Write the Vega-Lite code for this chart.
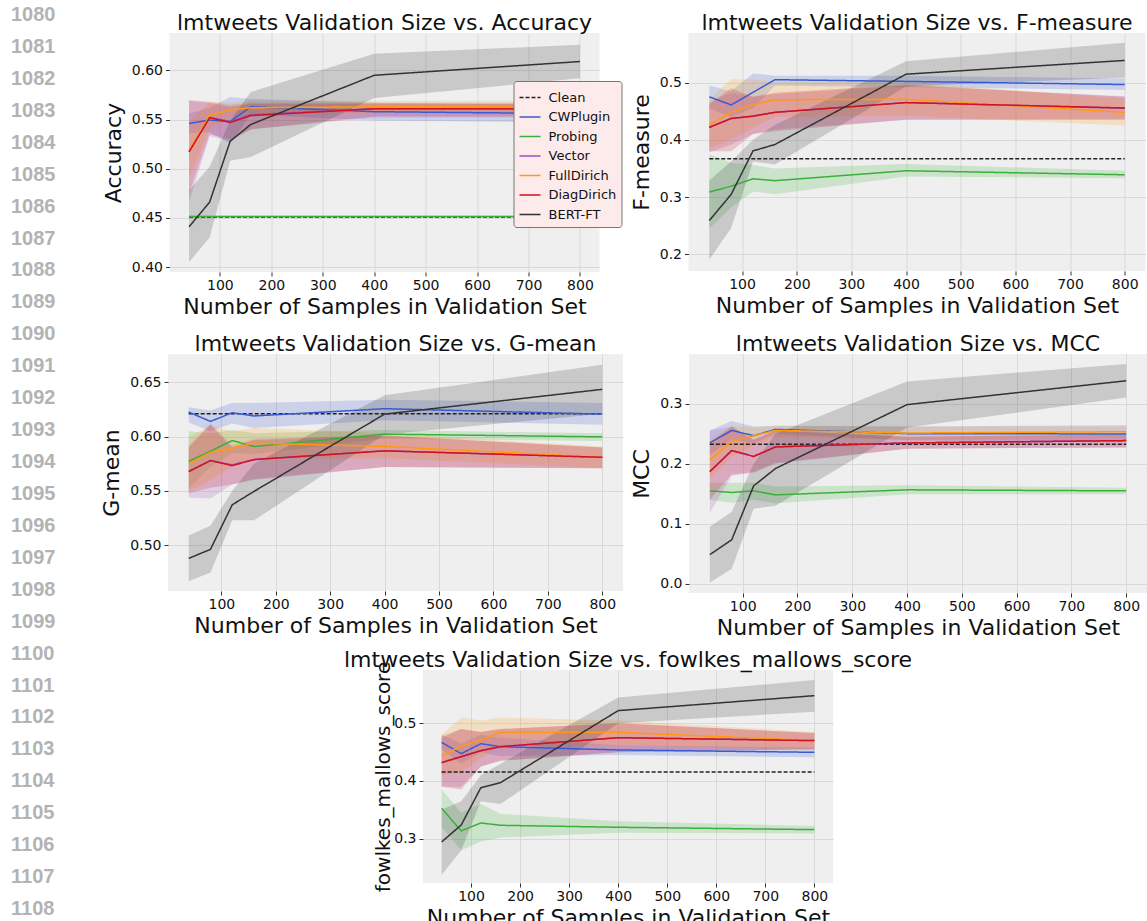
{
"$schema": "https://vega.github.io/schema/vega-lite/v6.json",
"padding": {"top": 5, "left": 0, "right": 0, "bottom": 0},
"background": "white",
"config": {
 "font": "DejaVu Sans",
 "view": {"stroke": null},
 "title": {"fontSize": 22, "fontWeight": "normal", "color": "#111", "offset": -2, "frame": "group", "font": "DejaVu Sans"},
 "axis": {"domain": false, "tickColor": "#333", "tickSize": 4, "tickWidth": 1, "labelFontSize": 14, "labelColor": "#111", "labelPadding": 3, "titleFontSize": 22, "titleFontWeight": "normal", "titleColor": "#111", "titlePadding": 6, "gridColor": "#d9d9d9", "gridWidth": 1, "labelFlush": false, "labelOverlap": false, "labelFont": "DejaVu Sans", "titleFont": "DejaVu Sans"},
 "axisX": {"labelPadding": 2, "titlePadding": 4}
},
"datasets": {"d": [
{"m":"acc","s":"Clean","n":40,"v":0.451},
{"m":"acc","s":"Clean","n":800,"v":0.451},
{"m":"acc","s":"CWPlugin","n":40,"v":0.546,"lo":0.536,"hi":0.556},
{"m":"acc","s":"CWPlugin","n":80,"v":0.5495,"lo":0.537,"hi":0.562},
{"m":"acc","s":"CWPlugin","n":120,"v":0.548,"lo":0.526,"hi":0.573},
{"m":"acc","s":"CWPlugin","n":160,"v":0.563,"lo":0.555,"hi":0.571},
{"m":"acc","s":"CWPlugin","n":400,"v":0.558,"lo":0.549,"hi":0.567},
{"m":"acc","s":"CWPlugin","n":800,"v":0.556,"lo":0.547,"hi":0.565},
{"m":"acc","s":"Probing","n":40,"v":0.4515,"lo":0.4505,"hi":0.4525},
{"m":"acc","s":"Probing","n":80,"v":0.4515,"lo":0.4505,"hi":0.4525},
{"m":"acc","s":"Probing","n":120,"v":0.4515,"lo":0.4505,"hi":0.4525},
{"m":"acc","s":"Probing","n":160,"v":0.4515,"lo":0.4505,"hi":0.4525},
{"m":"acc","s":"Probing","n":400,"v":0.4515,"lo":0.4505,"hi":0.4525},
{"m":"acc","s":"Probing","n":800,"v":0.4515,"lo":0.4505,"hi":0.4525},
{"m":"acc","s":"Vector","n":40,"v":0.518,"lo":0.466,"hi":0.570},
{"m":"acc","s":"Vector","n":80,"v":0.552,"lo":0.533,"hi":0.568},
{"m":"acc","s":"Vector","n":120,"v":0.548,"lo":0.528,"hi":0.565},
{"m":"acc","s":"Vector","n":160,"v":0.555,"lo":0.540,"hi":0.567},
{"m":"acc","s":"Vector","n":400,"v":0.561,"lo":0.552,"hi":0.567},
{"m":"acc","s":"Vector","n":800,"v":0.561,"lo":0.552,"hi":0.567},
{"m":"acc","s":"FullDirich","n":40,"v":0.518,"lo":0.490,"hi":0.547},
{"m":"acc","s":"FullDirich","n":80,"v":0.5545,"lo":0.540,"hi":0.568},
{"m":"acc","s":"FullDirich","n":120,"v":0.5597,"lo":0.552,"hi":0.567},
{"m":"acc","s":"FullDirich","n":160,"v":0.562,"lo":0.555,"hi":0.569},
{"m":"acc","s":"FullDirich","n":400,"v":0.563,"lo":0.557,"hi":0.569},
{"m":"acc","s":"FullDirich","n":800,"v":0.563,"lo":0.557,"hi":0.569},
{"m":"acc","s":"DiagDirich","n":40,"v":0.517,"lo":0.475,"hi":0.569},
{"m":"acc","s":"DiagDirich","n":80,"v":0.552,"lo":0.535,"hi":0.567},
{"m":"acc","s":"DiagDirich","n":120,"v":0.547,"lo":0.530,"hi":0.563},
{"m":"acc","s":"DiagDirich","n":160,"v":0.554,"lo":0.540,"hi":0.566},
{"m":"acc","s":"DiagDirich","n":400,"v":0.561,"lo":0.553,"hi":0.566},
{"m":"acc","s":"DiagDirich","n":800,"v":0.561,"lo":0.553,"hi":0.566},
{"m":"acc","s":"BERT-FT","n":40,"v":0.441,"lo":0.405,"hi":0.478},
{"m":"acc","s":"BERT-FT","n":80,"v":0.466,"lo":0.430,"hi":0.502},
{"m":"acc","s":"BERT-FT","n":120,"v":0.528,"lo":0.508,"hi":0.549},
{"m":"acc","s":"BERT-FT","n":160,"v":0.545,"lo":0.512,"hi":0.578},
{"m":"acc","s":"BERT-FT","n":400,"v":0.595,"lo":0.572,"hi":0.617},
{"m":"acc","s":"BERT-FT","n":800,"v":0.609,"lo":0.592,"hi":0.626},

{"m":"f1","s":"Clean","n":40,"v":0.3668},
{"m":"f1","s":"Clean","n":800,"v":0.3668},
{"m":"f1","s":"CWPlugin","n":40,"v":0.475,"lo":0.455,"hi":0.495},
{"m":"f1","s":"CWPlugin","n":80,"v":0.461,"lo":0.440,"hi":0.485},
{"m":"f1","s":"CWPlugin","n":120,"v":0.483,"lo":0.455,"hi":0.516},
{"m":"f1","s":"CWPlugin","n":160,"v":0.505,"lo":0.495,"hi":0.512},
{"m":"f1","s":"CWPlugin","n":400,"v":0.502,"lo":0.492,"hi":0.512},
{"m":"f1","s":"CWPlugin","n":800,"v":0.4965,"lo":0.487,"hi":0.507},
{"m":"f1","s":"Probing","n":40,"v":0.309,"lo":0.245,"hi":0.375},
{"m":"f1","s":"Probing","n":80,"v":0.319,"lo":0.282,"hi":0.360},
{"m":"f1","s":"Probing","n":120,"v":0.332,"lo":0.310,"hi":0.356},
{"m":"f1","s":"Probing","n":160,"v":0.3287,"lo":0.305,"hi":0.350},
{"m":"f1","s":"Probing","n":400,"v":0.346,"lo":0.336,"hi":0.358},
{"m":"f1","s":"Probing","n":800,"v":0.339,"lo":0.333,"hi":0.346},
{"m":"f1","s":"Vector","n":40,"v":0.422,"lo":0.378,"hi":0.466},
{"m":"f1","s":"Vector","n":80,"v":0.437,"lo":0.392,"hi":0.482},
{"m":"f1","s":"Vector","n":120,"v":0.441,"lo":0.410,"hi":0.475},
{"m":"f1","s":"Vector","n":160,"v":0.448,"lo":0.418,"hi":0.480},
{"m":"f1","s":"Vector","n":400,"v":0.465,"lo":0.435,"hi":0.495},
{"m":"f1","s":"Vector","n":800,"v":0.455,"lo":0.436,"hi":0.476},
{"m":"f1","s":"FullDirich","n":40,"v":0.4257,"lo":0.385,"hi":0.470},
{"m":"f1","s":"FullDirich","n":80,"v":0.448,"lo":0.400,"hi":0.506},
{"m":"f1","s":"FullDirich","n":120,"v":0.4614,"lo":0.420,"hi":0.505},
{"m":"f1","s":"FullDirich","n":160,"v":0.470,"lo":0.440,"hi":0.502},
{"m":"f1","s":"FullDirich","n":400,"v":0.4708,"lo":0.442,"hi":0.500},
{"m":"f1","s":"FullDirich","n":800,"v":0.448,"lo":0.425,"hi":0.472},
{"m":"f1","s":"DiagDirich","n":40,"v":0.4216,"lo":0.380,"hi":0.462},
{"m":"f1","s":"DiagDirich","n":80,"v":0.4374,"lo":0.380,"hi":0.490},
{"m":"f1","s":"DiagDirich","n":120,"v":0.4415,"lo":0.410,"hi":0.475},
{"m":"f1","s":"DiagDirich","n":160,"v":0.448,"lo":0.415,"hi":0.482},
{"m":"f1","s":"DiagDirich","n":400,"v":0.465,"lo":0.435,"hi":0.496},
{"m":"f1","s":"DiagDirich","n":800,"v":0.4556,"lo":0.435,"hi":0.475},
{"m":"f1","s":"BERT-FT","n":40,"v":0.259,"lo":0.191,"hi":0.329},
{"m":"f1","s":"BERT-FT","n":80,"v":0.3047,"lo":0.246,"hi":0.362},
{"m":"f1","s":"BERT-FT","n":120,"v":0.3807,"lo":0.362,"hi":0.400},
{"m":"f1","s":"BERT-FT","n":160,"v":0.3918,"lo":0.357,"hi":0.426},
{"m":"f1","s":"BERT-FT","n":400,"v":0.5146,"lo":0.493,"hi":0.537},
{"m":"f1","s":"BERT-FT","n":800,"v":0.5386,"lo":0.509,"hi":0.5696},

{"m":"gm","s":"Clean","n":40,"v":0.621},
{"m":"gm","s":"Clean","n":800,"v":0.621},
{"m":"gm","s":"CWPlugin","n":40,"v":0.6226,"lo":0.613,"hi":0.627},
{"m":"gm","s":"CWPlugin","n":80,"v":0.614,"lo":0.605,"hi":0.624},
{"m":"gm","s":"CWPlugin","n":120,"v":0.622,"lo":0.612,"hi":0.631},
{"m":"gm","s":"CWPlugin","n":160,"v":0.619,"lo":0.608,"hi":0.631},
{"m":"gm","s":"CWPlugin","n":400,"v":0.6257,"lo":0.615,"hi":0.634},
{"m":"gm","s":"CWPlugin","n":800,"v":0.6207,"lo":0.611,"hi":0.631},
{"m":"gm","s":"Probing","n":40,"v":0.5773,"lo":0.552,"hi":0.605},
{"m":"gm","s":"Probing","n":80,"v":0.5866,"lo":0.572,"hi":0.603},
{"m":"gm","s":"Probing","n":120,"v":0.5964,"lo":0.585,"hi":0.606},
{"m":"gm","s":"Probing","n":160,"v":0.5909,"lo":0.584,"hi":0.603},
{"m":"gm","s":"Probing","n":400,"v":0.6023,"lo":0.598,"hi":0.606},
{"m":"gm","s":"Probing","n":800,"v":0.5998,"lo":0.596,"hi":0.603},
{"m":"gm","s":"Vector","n":40,"v":0.568,"lo":0.544,"hi":0.592},
{"m":"gm","s":"Vector","n":80,"v":0.578,"lo":0.543,"hi":0.612},
{"m":"gm","s":"Vector","n":120,"v":0.574,"lo":0.556,"hi":0.592},
{"m":"gm","s":"Vector","n":160,"v":0.579,"lo":0.560,"hi":0.598},
{"m":"gm","s":"Vector","n":400,"v":0.587,"lo":0.572,"hi":0.601},
{"m":"gm","s":"Vector","n":800,"v":0.581,"lo":0.571,"hi":0.590},
{"m":"gm","s":"FullDirich","n":40,"v":0.5749,"lo":0.550,"hi":0.600},
{"m":"gm","s":"FullDirich","n":80,"v":0.5856,"lo":0.560,"hi":0.610},
{"m":"gm","s":"FullDirich","n":120,"v":0.5896,"lo":0.573,"hi":0.605},
{"m":"gm","s":"FullDirich","n":160,"v":0.594,"lo":0.580,"hi":0.608},
{"m":"gm","s":"FullDirich","n":400,"v":0.591,"lo":0.580,"hi":0.603},
{"m":"gm","s":"FullDirich","n":800,"v":0.581,"lo":0.571,"hi":0.591},
{"m":"gm","s":"DiagDirich","n":40,"v":0.5678,"lo":0.548,"hi":0.590},
{"m":"gm","s":"DiagDirich","n":80,"v":0.578,"lo":0.553,"hi":0.611},
{"m":"gm","s":"DiagDirich","n":120,"v":0.5733,"lo":0.556,"hi":0.590},
{"m":"gm","s":"DiagDirich","n":160,"v":0.5789,"lo":0.561,"hi":0.597},
{"m":"gm","s":"DiagDirich","n":400,"v":0.5869,"lo":0.572,"hi":0.601},
{"m":"gm","s":"DiagDirich","n":800,"v":0.581,"lo":0.571,"hi":0.590},
{"m":"gm","s":"BERT-FT","n":40,"v":0.488,"lo":0.467,"hi":0.509},
{"m":"gm","s":"BERT-FT","n":80,"v":0.4963,"lo":0.475,"hi":0.518},
{"m":"gm","s":"BERT-FT","n":120,"v":0.5373,"lo":0.523,"hi":0.550},
{"m":"gm","s":"BERT-FT","n":160,"v":0.5496,"lo":0.523,"hi":0.575},
{"m":"gm","s":"BERT-FT","n":400,"v":0.6207,"lo":0.602,"hi":0.638},
{"m":"gm","s":"BERT-FT","n":800,"v":0.6435,"lo":0.621,"hi":0.666},

{"m":"mcc","s":"Clean","n":40,"v":0.2323},
{"m":"mcc","s":"Clean","n":800,"v":0.2323},
{"m":"mcc","s":"CWPlugin","n":40,"v":0.2345,"lo":0.215,"hi":0.255},
{"m":"mcc","s":"CWPlugin","n":80,"v":0.2554,"lo":0.240,"hi":0.271},
{"m":"mcc","s":"CWPlugin","n":120,"v":0.2466,"lo":0.234,"hi":0.262},
{"m":"mcc","s":"CWPlugin","n":160,"v":0.2571,"lo":0.250,"hi":0.263},
{"m":"mcc","s":"CWPlugin","n":400,"v":0.250,"lo":0.239,"hi":0.262},
{"m":"mcc","s":"CWPlugin","n":800,"v":0.2494,"lo":0.237,"hi":0.264},
{"m":"mcc","s":"Probing","n":40,"v":0.1547,"lo":0.140,"hi":0.168},
{"m":"mcc","s":"Probing","n":80,"v":0.152,"lo":0.135,"hi":0.168},
{"m":"mcc","s":"Probing","n":120,"v":0.1547,"lo":0.140,"hi":0.168},
{"m":"mcc","s":"Probing","n":160,"v":0.148,"lo":0.134,"hi":0.162},
{"m":"mcc","s":"Probing","n":400,"v":0.1564,"lo":0.149,"hi":0.164},
{"m":"mcc","s":"Probing","n":800,"v":0.1547,"lo":0.149,"hi":0.160},
{"m":"mcc","s":"Vector","n":40,"v":0.187,"lo":0.118,"hi":0.255},
{"m":"mcc","s":"Vector","n":80,"v":0.222,"lo":0.180,"hi":0.262},
{"m":"mcc","s":"Vector","n":120,"v":0.212,"lo":0.185,"hi":0.240},
{"m":"mcc","s":"Vector","n":160,"v":0.228,"lo":0.200,"hi":0.255},
{"m":"mcc","s":"Vector","n":400,"v":0.2345,"lo":0.225,"hi":0.245},
{"m":"mcc","s":"Vector","n":800,"v":0.2384,"lo":0.227,"hi":0.249},
{"m":"mcc","s":"FullDirich","n":40,"v":0.2064,"lo":0.175,"hi":0.240},
{"m":"mcc","s":"FullDirich","n":80,"v":0.2367,"lo":0.212,"hi":0.263},
{"m":"mcc","s":"FullDirich","n":120,"v":0.2466,"lo":0.230,"hi":0.260},
{"m":"mcc","s":"FullDirich","n":160,"v":0.2554,"lo":0.245,"hi":0.263},
{"m":"mcc","s":"FullDirich","n":400,"v":0.251,"lo":0.240,"hi":0.262},
{"m":"mcc","s":"FullDirich","n":800,"v":0.2532,"lo":0.243,"hi":0.262},
{"m":"mcc","s":"DiagDirich","n":40,"v":0.1866,"lo":0.140,"hi":0.235},
{"m":"mcc","s":"DiagDirich","n":80,"v":0.2218,"lo":0.182,"hi":0.262},
{"m":"mcc","s":"DiagDirich","n":120,"v":0.212,"lo":0.186,"hi":0.240},
{"m":"mcc","s":"DiagDirich","n":160,"v":0.2279,"lo":0.201,"hi":0.255},
{"m":"mcc","s":"DiagDirich","n":400,"v":0.2345,"lo":0.225,"hi":0.245},
{"m":"mcc","s":"DiagDirich","n":800,"v":0.2384,"lo":0.227,"hi":0.248},
{"m":"mcc","s":"BERT-FT","n":40,"v":0.0485,"lo":0.002,"hi":0.095},
{"m":"mcc","s":"BERT-FT","n":80,"v":0.0733,"lo":0.025,"hi":0.120},
{"m":"mcc","s":"BERT-FT","n":120,"v":0.163,"lo":0.125,"hi":0.200},
{"m":"mcc","s":"BERT-FT","n":160,"v":0.192,"lo":0.130,"hi":0.250},
{"m":"mcc","s":"BERT-FT","n":400,"v":0.2983,"lo":0.260,"hi":0.337},
{"m":"mcc","s":"BERT-FT","n":800,"v":0.338,"lo":0.310,"hi":0.366},

{"m":"fms","s":"Clean","n":40,"v":0.4156},
{"m":"fms","s":"Clean","n":800,"v":0.4156},
{"m":"fms","s":"CWPlugin","n":40,"v":0.467,"lo":0.455,"hi":0.480},
{"m":"fms","s":"CWPlugin","n":80,"v":0.4474,"lo":0.430,"hi":0.465},
{"m":"fms","s":"CWPlugin","n":120,"v":0.4647,"lo":0.450,"hi":0.480},
{"m":"fms","s":"CWPlugin","n":160,"v":0.4595,"lo":0.443,"hi":0.475},
{"m":"fms","s":"CWPlugin","n":400,"v":0.4538,"lo":0.445,"hi":0.462},
{"m":"fms","s":"CWPlugin","n":800,"v":0.4497,"lo":0.441,"hi":0.458},
{"m":"fms","s":"Probing","n":40,"v":0.3526,"lo":0.320,"hi":0.385},
{"m":"fms","s":"Probing","n":80,"v":0.3133,"lo":0.280,"hi":0.345},
{"m":"fms","s":"Probing","n":120,"v":0.3272,"lo":0.295,"hi":0.360},
{"m":"fms","s":"Probing","n":160,"v":0.3231,"lo":0.302,"hi":0.343},
{"m":"fms","s":"Probing","n":400,"v":0.3197,"lo":0.310,"hi":0.330},
{"m":"fms","s":"Probing","n":800,"v":0.3156,"lo":0.309,"hi":0.322},
{"m":"fms","s":"Vector","n":40,"v":0.432,"lo":0.390,"hi":0.478},
{"m":"fms","s":"Vector","n":80,"v":0.442,"lo":0.390,"hi":0.490},
{"m":"fms","s":"Vector","n":120,"v":0.4526,"lo":0.425,"hi":0.485},
{"m":"fms","s":"Vector","n":160,"v":0.4595,"lo":0.435,"hi":0.490},
{"m":"fms","s":"Vector","n":400,"v":0.4751,"lo":0.450,"hi":0.500},
{"m":"fms","s":"Vector","n":800,"v":0.470,"lo":0.455,"hi":0.483},
{"m":"fms","s":"FullDirich","n":40,"v":0.4428,"lo":0.410,"hi":0.480},
{"m":"fms","s":"FullDirich","n":80,"v":0.4607,"lo":0.415,"hi":0.510},
{"m":"fms","s":"FullDirich","n":120,"v":0.4711,"lo":0.440,"hi":0.505},
{"m":"fms","s":"FullDirich","n":160,"v":0.4844,"lo":0.460,"hi":0.510},
{"m":"fms","s":"FullDirich","n":400,"v":0.4844,"lo":0.462,"hi":0.505},
{"m":"fms","s":"FullDirich","n":800,"v":0.470,"lo":0.455,"hi":0.485},
{"m":"fms","s":"DiagDirich","n":40,"v":0.4318,"lo":0.390,"hi":0.475},
{"m":"fms","s":"DiagDirich","n":80,"v":0.4422,"lo":0.385,"hi":0.490},
{"m":"fms","s":"DiagDirich","n":120,"v":0.4526,"lo":0.425,"hi":0.485},
{"m":"fms","s":"DiagDirich","n":160,"v":0.4595,"lo":0.435,"hi":0.490},
{"m":"fms","s":"DiagDirich","n":400,"v":0.4751,"lo":0.450,"hi":0.500},
{"m":"fms","s":"DiagDirich","n":800,"v":0.470,"lo":0.455,"hi":0.483},
{"m":"fms","s":"BERT-FT","n":40,"v":0.2942,"lo":0.237,"hi":0.350},
{"m":"fms","s":"BERT-FT","n":80,"v":0.3237,"lo":0.280,"hi":0.365},
{"m":"fms","s":"BERT-FT","n":120,"v":0.3884,"lo":0.365,"hi":0.410},
{"m":"fms","s":"BERT-FT","n":160,"v":0.3971,"lo":0.360,"hi":0.430},
{"m":"fms","s":"BERT-FT","n":400,"v":0.522,"lo":0.500,"hi":0.545},
{"m":"fms","s":"BERT-FT","n":800,"v":0.548,"lo":0.520,"hi":0.575}
]},
"spacing": 44,
"resolve": {"scale": {"color": "independent", "fill": "independent", "strokeDash": "independent"}},
"hconcat": [
 {
  "width": 55, "height": 880,
  "data": {"values": [{"ln":1080},{"ln":1081},{"ln":1082},{"ln":1083},{"ln":1084},{"ln":1085},{"ln":1086},{"ln":1087},{"ln":1088},{"ln":1089},{"ln":1090},{"ln":1091},{"ln":1092},{"ln":1093},{"ln":1094},{"ln":1095},{"ln":1096},{"ln":1097},{"ln":1098},{"ln":1099},{"ln":1100},{"ln":1101},{"ln":1102},{"ln":1103},{"ln":1104},{"ln":1105},{"ln":1106},{"ln":1107},{"ln":1108}]},
  "mark": {"type": "text", "align": "left", "baseline": "middle", "font": "Liberation Sans", "fontSize": 20, "fontWeight": "bold", "color": "#b3b3b3"},
  "encoding": {
   "y": {"field": "ln", "type": "quantitative", "scale": {"domain": [1080.5637, 1108.124], "reverse": true, "nice": false, "zero": false}, "axis": null},
   "x": {"datum": 0, "type": "quantitative", "scale": {"domain": [-0.25, 1], "nice": false, "zero": false}, "axis": null},
   "text": {"field": "ln", "type": "quantitative", "format": "d"}
  }
 },
 {
  "vconcat": [
   {
    "hconcat": [
     {
      "width": 430, "height": 239,
      "view": {"fill": "#efefef"},
      "title": "lmtweets Validation Size vs. Accuracy",
      "data": {"name": "d"},
      "transform": [{"filter": "datum.m === 'acc'"}],
      "layer": [
       {"transform": [{"filter": "datum.s !== 'Clean'"}],
        "mark": {"type": "area", "opacity": 0.2},
        "encoding": {
         "x": {"field": "n", "type": "quantitative", "title": "Number of Samples in Validation Set", "scale": {"domain": [2, 838], "nice": false, "zero": false}, "axis": {"values": [100,200,300,400,500,600,700,800]}},
         "y": {"field": "lo", "type": "quantitative", "title": "Accuracy", "scale": {"domain": [0.395, 0.638], "nice": false, "zero": false}, "axis": {"values": [0.40,0.45,0.50,0.55,0.60], "format": ".2f"}},
         "y2": {"field": "hi"},
         "fill": {"field": "s", "type": "nominal", "scale": {"domain": ["CWPlugin","Probing","Vector","FullDirich","DiagDirich","BERT-FT"], "range": ["#3a5bd0","#3cae3c","#9b52c0","#ff9a10","#d2121e","#333333"]}, "legend": null}
        }},
       {"mark": {"type": "line", "strokeWidth": 1.5},
        "encoding": {
         "x": {"field": "n", "type": "quantitative", "title": "Number of Samples in Validation Set"},
         "y": {"field": "v", "type": "quantitative", "title": "Accuracy"},
         "color": {"field": "s", "type": "nominal", "scale": {"domain": ["Clean","CWPlugin","Probing","Vector","FullDirich","DiagDirich","BERT-FT"], "range": ["#222222","#3a5bd0","#3cae3c","#9b52c0","#ff9a10","#d2121e","#333333"]},
          "legend": {"title": null, "orient": "none", "legendX": 344, "legendY": 48, "direction": "vertical", "fillColor": "#fdeaea", "strokeColor": "#777777", "cornerRadius": 3, "padding": 5, "symbolType": "stroke", "symbolSize": 441, "symbolStrokeWidth": 1.5, "labelFontSize": 13, "labelFont": "DejaVu Sans", "labelColor": "#111", "labelOffset": 7, "rowPadding": 0.5}},
         "strokeDash": {"field": "s", "type": "nominal", "scale": {"domain": ["Clean","CWPlugin","Probing","Vector","FullDirich","DiagDirich","BERT-FT"], "range": [[4,2],[1,0],[1,0],[1,0],[1,0],[1,0],[1,0]]},
          "legend": {"title": null, "orient": "none", "legendX": 344, "legendY": 48, "direction": "vertical", "fillColor": "#fdeaea", "strokeColor": "#777777", "cornerRadius": 3, "padding": 5, "symbolType": "stroke", "symbolSize": 441, "symbolStrokeWidth": 1.5, "labelFontSize": 13, "labelFont": "DejaVu Sans", "labelColor": "#111", "labelOffset": 7, "rowPadding": 0.5}}
        }}
      ]
     },
     {
      "width": 457, "height": 238,
      "view": {"fill": "#efefef"},
      "title": "lmtweets Validation Size vs. F-measure",
      "data": {"name": "d"},
      "transform": [{"filter": "datum.m === 'f1'"}],
      "layer": [
       {"transform": [{"filter": "datum.s !== 'Clean'"}],
        "mark": {"type": "area", "opacity": 0.2},
        "encoding": {
         "x": {"field": "n", "type": "quantitative", "title": "Number of Samples in Validation Set", "scale": {"domain": [2, 838], "nice": false, "zero": false}, "axis": {"values": [100,200,300,400,500,600,700,800]}},
         "y": {"field": "lo", "type": "quantitative", "title": "F-measure", "scale": {"domain": [0.171, 0.5865], "nice": false, "zero": false}, "axis": {"values": [0.2,0.3,0.4,0.5], "format": ".1f"}},
         "y2": {"field": "hi"},
         "fill": {"field": "s", "type": "nominal", "scale": {"domain": ["CWPlugin","Probing","Vector","FullDirich","DiagDirich","BERT-FT"], "range": ["#3a5bd0","#3cae3c","#9b52c0","#ff9a10","#d2121e","#333333"]}, "legend": null}
        }},
       {"mark": {"type": "line", "strokeWidth": 1.5},
        "encoding": {
         "x": {"field": "n", "type": "quantitative", "title": "Number of Samples in Validation Set"},
         "y": {"field": "v", "type": "quantitative", "title": "F-measure"},
         "color": {"field": "s", "type": "nominal", "scale": {"domain": ["Clean","CWPlugin","Probing","Vector","FullDirich","DiagDirich","BERT-FT"], "range": ["#222222","#3a5bd0","#3cae3c","#9b52c0","#ff9a10","#d2121e","#333333"]}, "legend": null},
         "strokeDash": {"field": "s", "type": "nominal", "scale": {"domain": ["Clean","CWPlugin","Probing","Vector","FullDirich","DiagDirich","BERT-FT"], "range": [[4,2],[1,0],[1,0],[1,0],[1,0],[1,0],[1,0]]}, "legend": null}
        }}
      ]
     }
    ],
    "spacing": 7,
    "resolve": {"scale": {"color": "independent", "fill": "independent", "strokeDash": "independent"}}
   },
   {
    "vconcat": [
     {
      "hconcat": [
       {
        "width": 455, "height": 237,
        "view": {"fill": "#efefef"},
        "title": "lmtweets Validation Size vs. G-mean",
        "data": {"name": "d"},
        "transform": [{"filter": "datum.m === 'gm'"}],
        "layer": [
         {"transform": [{"filter": "datum.s !== 'Clean'"}],
          "mark": {"type": "area", "opacity": 0.2},
          "encoding": {
           "x": {"field": "n", "type": "quantitative", "title": "Number of Samples in Validation Set", "scale": {"domain": [2, 838], "nice": false, "zero": false}, "axis": {"values": [100,200,300,400,500,600,700,800]}},
           "y": {"field": "lo", "type": "quantitative", "title": "G-mean", "scale": {"domain": [0.458, 0.676], "nice": false, "zero": false}, "axis": {"values": [0.50,0.55,0.60,0.65], "format": ".2f"}},
           "y2": {"field": "hi"},
           "fill": {"field": "s", "type": "nominal", "scale": {"domain": ["CWPlugin","Probing","Vector","FullDirich","DiagDirich","BERT-FT"], "range": ["#3a5bd0","#3cae3c","#9b52c0","#ff9a10","#d2121e","#333333"]}, "legend": null}
          }},
         {"mark": {"type": "line", "strokeWidth": 1.5},
          "encoding": {
           "x": {"field": "n", "type": "quantitative", "title": "Number of Samples in Validation Set"},
           "y": {"field": "v", "type": "quantitative", "title": "G-mean"},
           "color": {"field": "s", "type": "nominal", "scale": {"domain": ["Clean","CWPlugin","Probing","Vector","FullDirich","DiagDirich","BERT-FT"], "range": ["#222222","#3a5bd0","#3cae3c","#9b52c0","#ff9a10","#d2121e","#333333"]}, "legend": null},
           "strokeDash": {"field": "s", "type": "nominal", "scale": {"domain": ["Clean","CWPlugin","Probing","Vector","FullDirich","DiagDirich","BERT-FT"], "range": [[4,2],[1,0],[1,0],[1,0],[1,0],[1,0],[1,0]]}, "legend": null}
          }}
        ]
       },
       {
        "width": 458, "height": 239,
        "view": {"fill": "#efefef"},
        "title": "lmtweets Validation Size vs. MCC",
        "data": {"name": "d"},
        "transform": [{"filter": "datum.m === 'mcc'"}],
        "layer": [
         {"transform": [{"filter": "datum.s !== 'Clean'"}],
          "mark": {"type": "area", "opacity": 0.2},
          "encoding": {
           "x": {"field": "n", "type": "quantitative", "title": "Number of Samples in Validation Set", "scale": {"domain": [2, 838], "nice": false, "zero": false}, "axis": {"values": [100,200,300,400,500,600,700,800]}},
           "y": {"field": "lo", "type": "quantitative", "title": "MCC", "scale": {"domain": [-0.0154, 0.3826], "nice": false, "zero": false}, "axis": {"values": [0.0,0.1,0.2,0.3], "format": ".1f"}},
           "y2": {"field": "hi"},
           "fill": {"field": "s", "type": "nominal", "scale": {"domain": ["CWPlugin","Probing","Vector","FullDirich","DiagDirich","BERT-FT"], "range": ["#3a5bd0","#3cae3c","#9b52c0","#ff9a10","#d2121e","#333333"]}, "legend": null}
          }},
         {"mark": {"type": "line", "strokeWidth": 1.5},
          "encoding": {
           "x": {"field": "n", "type": "quantitative", "title": "Number of Samples in Validation Set"},
           "y": {"field": "v", "type": "quantitative", "title": "MCC"},
           "color": {"field": "s", "type": "nominal", "scale": {"domain": ["Clean","CWPlugin","Probing","Vector","FullDirich","DiagDirich","BERT-FT"], "range": ["#222222","#3a5bd0","#3cae3c","#9b52c0","#ff9a10","#d2121e","#333333"]}, "legend": null},
           "strokeDash": {"field": "s", "type": "nominal", "scale": {"domain": ["Clean","CWPlugin","Probing","Vector","FullDirich","DiagDirich","BERT-FT"], "range": [[4,2],[1,0],[1,0],[1,0],[1,0],[1,0],[1,0]]}, "legend": null}
          }}
        ]
       }
      ],
      "spacing": 7,
      "resolve": {"scale": {"color": "independent", "fill": "independent", "strokeDash": "independent"}}
     },
     {
      "hconcat": [
       {
        "width": 176, "height": 10,
        "data": {"values": [{"t": ""}]},
        "mark": {"type": "text"},
        "encoding": {"text": {"field": "t", "type": "nominal"}}
       },
       {
        "width": 410, "height": 213,
        "view": {"fill": "#efefef"},
        "title": {"text": "lmtweets Validation Size vs. fowlkes_mallows_score", "offset": -11},
        "data": {"name": "d"},
        "transform": [{"filter": "datum.m === 'fms'"}],
        "layer": [
         {"transform": [{"filter": "datum.s !== 'Clean'"}],
          "mark": {"type": "area", "opacity": 0.2},
          "encoding": {
           "x": {"field": "n", "type": "quantitative", "title": "Number of Samples in Validation Set", "scale": {"domain": [2, 838], "nice": false, "zero": false}, "axis": {"values": [100,200,300,400,500,600,700,800]}},
           "y": {"field": "lo", "type": "quantitative", "title": "fowlkes_mallows_score", "scale": {"domain": [0.223, 0.5925], "nice": false, "zero": false}, "axis": {"values": [0.3,0.4,0.5], "format": ".1f", "titleFontSize": 20, "titlePadding": 0}},
           "y2": {"field": "hi"},
           "fill": {"field": "s", "type": "nominal", "scale": {"domain": ["CWPlugin","Probing","Vector","FullDirich","DiagDirich","BERT-FT"], "range": ["#3a5bd0","#3cae3c","#9b52c0","#ff9a10","#d2121e","#333333"]}, "legend": null}
          }},
         {"mark": {"type": "line", "strokeWidth": 1.5},
          "encoding": {
           "x": {"field": "n", "type": "quantitative", "title": "Number of Samples in Validation Set"},
           "y": {"field": "v", "type": "quantitative", "title": "fowlkes_mallows_score"},
           "color": {"field": "s", "type": "nominal", "scale": {"domain": ["Clean","CWPlugin","Probing","Vector","FullDirich","DiagDirich","BERT-FT"], "range": ["#222222","#3a5bd0","#3cae3c","#9b52c0","#ff9a10","#d2121e","#333333"]}, "legend": null},
           "strokeDash": {"field": "s", "type": "nominal", "scale": {"domain": ["Clean","CWPlugin","Probing","Vector","FullDirich","DiagDirich","BERT-FT"], "range": [[4,2],[1,0],[1,0],[1,0],[1,0],[1,0],[1,0]]}, "legend": null}
          }}
        ]
       }
      ],
      "spacing": 0,
      "resolve": {"scale": {"color": "independent", "fill": "independent", "strokeDash": "independent"}}
     }
    ],
    "spacing": 11,
    "resolve": {"scale": {"color": "independent", "fill": "independent", "strokeDash": "independent"}}
   }
  ],
  "center": true,
  "spacing": 16,
  "resolve": {"scale": {"color": "independent", "fill": "independent", "strokeDash": "independent"}}
 }
]
}
